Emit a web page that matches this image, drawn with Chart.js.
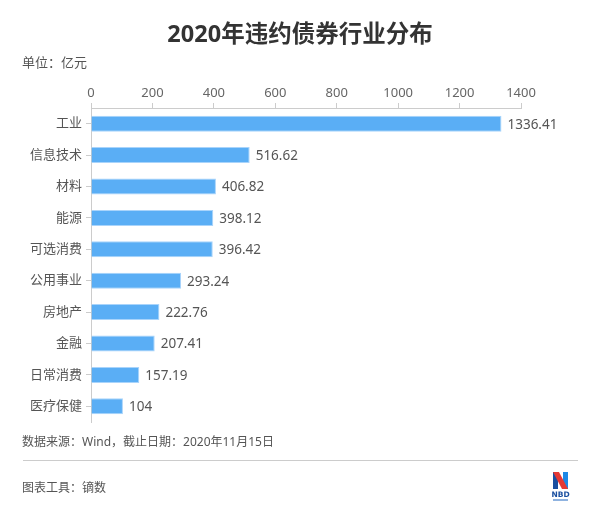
<!DOCTYPE html>
<html><head><meta charset="utf-8">
<script src="https://cdn.jsdelivr.net/npm/chart.js@4"></script>
<style>
html,body{margin:0;padding:0;background:#fff;}
#wrap{position:relative;width:600px;height:518px;overflow:hidden;font-family:"Noto Sans","Noto Sans CJK SC",sans-serif;}
canvas{position:absolute;left:0;top:0;}
.t{position:absolute;white-space:nowrap;}
#title{left:0;width:600px;text-align:center;top:17px;font-size:23.5px;font-weight:bold;color:#333;line-height:32px;}
#unit{left:22px;top:53px;font-size:13px;color:#555;line-height:18px;}
#src{left:22px;top:433px;font-size:12px;color:#555;line-height:18px;}
#tool{left:22px;top:479px;font-size:12px;color:#555;line-height:18px;}
#hr{position:absolute;left:23px;top:460px;width:555px;height:1px;background:#ccc;}
#logo{position:absolute;left:552px;top:471px;}
</style></head>
<body><div id="wrap">
<canvas id="c" width="600" height="518"></canvas>
<div class="t" id="title">2020年违约债券行业分布</div>
<div class="t" id="unit">单位：亿元</div>
<div class="t" id="src">数据来源：Wind，截止日期：2020年11月15日</div>
<div id="hr"></div>
<div class="t" id="tool">图表工具：镝数</div>
<svg id="logo" width="18" height="34" viewBox="0 0 18 34">
<rect x="1" y="1" width="5" height="17" fill="#1a4fa0"/>
<rect x="11" y="1" width="5" height="17" fill="#1e88e5"/>
<polygon points="1,1 7,1 16,18 10,18" fill="#e53935"/>
<text x="8.5" y="25.5" text-anchor="middle" font-family="DejaVu Sans" font-weight="bold" font-size="7.5" fill="#1a4fa0">NBD</text>
<rect x="1" y="28" width="15" height="2" fill="#8fb3e0"/>
</svg>
</div>
<script>
const categories = ["工业","信息技术","材料","能源","可选消费","公用事业","房地产","金融","日常消费","医疗保健"];
const values = [1336.41,516.62,406.82,398.12,396.42,293.24,222.76,207.41,157.19,104];
const valueLabels = ["1336.41","516.62","406.82","398.12","396.42","293.24","222.76","207.41","157.19","104"];
const xTicks = [0,200,400,600,800,1000,1200,1400];

const labelPlugin = {
  id:'barLabels',
  afterDatasetsDraw(chart){
    const ctx = chart.ctx;
    const meta = chart.getDatasetMeta(0);
    ctx.save();
    ctx.font = '13.5px "Noto Sans","Noto Sans CJK SC",sans-serif';
    ctx.fillStyle = '#555';
    ctx.textAlign = 'left';
    ctx.textBaseline = 'middle';
    meta.data.forEach((bar,i)=>{
      ctx.fillText(valueLabels[i], bar.x + 6, bar.y + 1);
    });
    ctx.restore();
  }
};

new Chart(document.getElementById('c'),{
  type:'bar',
  data:{labels:categories,datasets:[{data:values,backgroundColor:'#5aaef5',borderColor:'#a9d4fb',borderWidth:1,barPercentage:0.51,categoryPercentage:1}]},
  options:{
    indexAxis:'y',
    responsive:false,
    animation:false,
    devicePixelRatio:1,
    layout:{padding:{top:74,bottom:96,right:79,left:0}},
    plugins:{legend:{display:false},tooltip:{enabled:false}},
    scales:{
      x:{
        position:'top',min:0,max:1400,
        afterBuildTicks(s){ s.ticks = xTicks.map(v=>({value:v})); },
        afterFit(s){ s.height = 34; },
        grid:{drawOnChartArea:false,drawTicks:true,tickLength:5,color:'#ccc'},
        border:{display:true,color:'#ccc'},
        ticks:{color:'#666',padding:2,font:{size:13,family:'"Noto Sans","Noto Sans CJK SC",sans-serif'},maxRotation:0,callback:(v)=>String(v)}
      },
      y:{
        afterFit(s){ s.width = 91; },
        grid:{drawOnChartArea:false,drawTicks:true,tickLength:5,color:'#ccc',offset:false},
        border:{display:true,color:'#ccc'},
        ticks:{color:'#555',padding:4,font:{size:13,family:'"Noto Sans","Noto Sans CJK SC",sans-serif'}}
      }
    }
  },
  plugins:[labelPlugin]
});
</script>
</body></html>
